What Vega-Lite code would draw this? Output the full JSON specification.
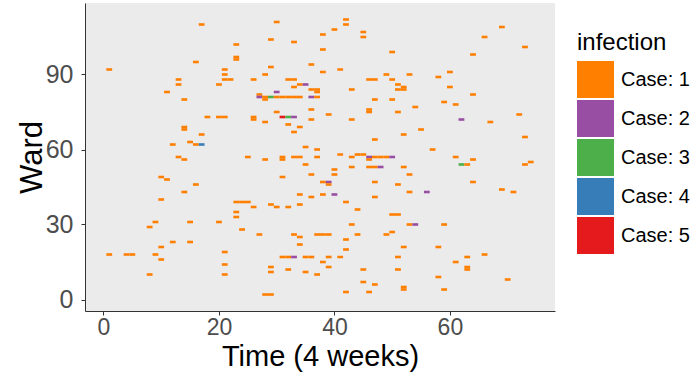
{
  "$schema": "https://vega.github.io/schema/vega-lite/v6.json",
  "width": 470,
  "height": 308,
  "autosize": {"type": "none"},
  "padding": {"left": 85, "top": 3, "right": 144, "bottom": 61},
  "background": "white",
  "config": {"view": {"fill": "#EBEBEB", "stroke": null}, "font": "Liberation Sans"},
  "data": {"values": [
    {"time":17,"ward":110,"infection":1},{"time":23,"ward":102,"infection":1},{"time":23,"ward":96,"infection":1},{"time":23,"ward":97,"infection":1},
    {"time":16,"ward":95,"infection":1},{"time":1,"ward":92,"infection":1},{"time":21,"ward":92,"infection":1},{"time":21,"ward":90,"infection":1},
    {"time":21,"ward":88,"infection":1},{"time":22,"ward":88,"infection":1},{"time":13,"ward":88,"infection":1},{"time":26,"ward":88,"infection":1},
    {"time":30,"ward":111,"infection":1},{"time":42,"ward":112,"infection":1},{"time":42,"ward":110,"infection":1},{"time":40,"ward":108,"infection":1},
    {"time":38,"ward":106,"infection":1},{"time":45,"ward":107,"infection":1},{"time":45,"ward":105,"infection":1},{"time":29,"ward":104,"infection":1},
    {"time":33,"ward":103,"infection":1},{"time":38,"ward":100,"infection":1},{"time":50,"ward":99,"infection":1},{"time":29,"ward":93,"infection":1},
    {"time":36,"ward":94,"infection":1},{"time":41,"ward":92,"infection":1},{"time":38,"ward":91,"infection":1},{"time":28,"ward":90,"infection":1},
    {"time":49,"ward":90,"infection":1},{"time":53,"ward":90,"infection":1},{"time":32,"ward":88,"infection":1},{"time":33,"ward":88,"infection":1},
    {"time":46,"ward":88,"infection":1},{"time":47,"ward":88,"infection":1},{"time":50,"ward":88,"infection":1},{"time":69,"ward":109,"infection":1},
    {"time":66,"ward":105,"infection":1},{"time":73,"ward":101,"infection":1},{"time":64,"ward":98,"infection":1},{"time":60,"ward":91,"infection":1},
    {"time":58,"ward":89,"infection":1},{"time":13,"ward":86,"infection":1},{"time":20,"ward":86,"infection":1},{"time":11,"ward":83,"infection":1},
    {"time":14,"ward":80,"infection":1},{"time":18,"ward":73,"infection":1},{"time":20,"ward":73,"infection":1},{"time":21,"ward":73,"infection":1},
    {"time":26,"ward":72,"infection":1},{"time":26,"ward":73,"infection":1},{"time":14,"ward":68,"infection":1},{"time":14,"ward":69,"infection":1},
    {"time":17,"ward":66,"infection":1},{"time":15,"ward":63,"infection":1},{"time":12,"ward":62,"infection":1},{"time":16,"ward":62,"infection":1},
    {"time":17,"ward":62,"infection":4},{"time":13,"ward":57,"infection":1},{"time":14,"ward":56,"infection":1},{"time":25,"ward":57,"infection":1},
    {"time":33,"ward":85,"infection":1},{"time":34,"ward":86,"infection":1},{"time":35,"ward":86,"infection":2},{"time":36,"ward":84,"infection":1},
    {"time":37,"ward":83,"infection":1},{"time":37,"ward":84,"infection":1},{"time":43,"ward":84,"infection":1},{"time":51,"ward":86,"infection":1},
    {"time":51,"ward":84,"infection":1},{"time":52,"ward":84,"infection":1},{"time":52,"ward":85,"infection":1},{"time":30,"ward":83,"infection":2},
    {"time":27,"ward":82,"infection":1},{"time":27,"ward":81,"infection":2},{"time":28,"ward":80,"infection":1},{"time":28,"ward":81,"infection":1},
    {"time":29,"ward":81,"infection":3},{"time":30,"ward":81,"infection":1},{"time":31,"ward":81,"infection":1},{"time":32,"ward":81,"infection":1},
    {"time":33,"ward":81,"infection":1},{"time":34,"ward":81,"infection":1},{"time":36,"ward":81,"infection":2},{"time":37,"ward":81,"infection":1},
    {"time":47,"ward":80,"infection":1},{"time":50,"ward":80,"infection":1},{"time":54,"ward":77,"infection":1},{"time":36,"ward":76,"infection":1},
    {"time":46,"ward":75,"infection":1},{"time":46,"ward":76,"infection":1},{"time":30,"ward":75,"infection":1},{"time":39,"ward":74,"infection":1},
    {"time":51,"ward":75,"infection":1},{"time":31,"ward":73,"infection":5},{"time":32,"ward":73,"infection":3},{"time":33,"ward":73,"infection":2},
    {"time":36,"ward":72,"infection":1},{"time":43,"ward":72,"infection":1},{"time":28,"ward":71,"infection":1},{"time":32,"ward":70,"infection":1},
    {"time":34,"ward":69,"infection":1},{"time":33,"ward":67,"infection":1},{"time":52,"ward":66,"infection":1},{"time":47,"ward":64,"infection":1},
    {"time":35,"ward":61,"infection":1},{"time":37,"ward":60,"infection":1},{"time":41,"ward":58,"infection":1},{"time":44,"ward":58,"infection":1},
    {"time":45,"ward":58,"infection":1},{"time":28,"ward":56,"infection":1},{"time":31,"ward":56,"infection":1},{"time":31,"ward":57,"infection":1},
    {"time":33,"ward":57,"infection":1},{"time":34,"ward":57,"infection":1},{"time":37,"ward":57,"infection":1},{"time":43,"ward":57,"infection":1},
    {"time":46,"ward":57,"infection":2},{"time":46,"ward":56,"infection":1},{"time":47,"ward":57,"infection":1},{"time":48,"ward":57,"infection":1},
    {"time":49,"ward":57,"infection":1},{"time":50,"ward":57,"infection":2},{"time":60,"ward":85,"infection":1},{"time":64,"ward":82,"infection":1},
    {"time":59,"ward":79,"infection":1},{"time":61,"ward":78,"infection":1},{"time":72,"ward":74,"infection":1},{"time":62,"ward":72,"infection":2},
    {"time":67,"ward":71,"infection":1},{"time":55,"ward":68,"infection":1},{"time":73,"ward":65,"infection":1},{"time":57,"ward":60,"infection":1},
    {"time":61,"ward":57,"infection":1},{"time":64,"ward":56,"infection":1},{"time":74,"ward":55,"infection":1},{"time":10,"ward":49,"infection":1},
    {"time":11,"ward":48,"infection":1},{"time":16,"ward":46,"infection":1},{"time":14,"ward":43,"infection":1},{"time":10,"ward":40,"infection":1},
    {"time":23,"ward":39,"infection":1},{"time":24,"ward":39,"infection":1},{"time":25,"ward":39,"infection":1},{"time":26,"ward":37,"infection":1},
    {"time":23,"ward":35,"infection":1},{"time":23,"ward":33,"infection":1},{"time":9,"ward":31,"infection":1},{"time":15,"ward":31,"infection":1},
    {"time":20,"ward":31,"infection":1},{"time":8,"ward":29,"infection":1},{"time":24,"ward":28,"infection":1},{"time":35,"ward":54,"infection":1},
    {"time":43,"ward":53,"infection":1},{"time":46,"ward":53,"infection":1},{"time":47,"ward":53,"infection":1},{"time":48,"ward":53,"infection":2},
    {"time":52,"ward":53,"infection":1},{"time":40,"ward":52,"infection":1},{"time":40,"ward":50,"infection":1},{"time":36,"ward":50,"infection":1},
    {"time":31,"ward":49,"infection":1},{"time":38,"ward":47,"infection":1},{"time":39,"ward":47,"infection":2},{"time":39,"ward":46,"infection":1},
    {"time":47,"ward":47,"infection":1},{"time":51,"ward":46,"infection":1},{"time":53,"ward":50,"infection":1},{"time":53,"ward":43,"infection":1},
    {"time":34,"ward":42,"infection":1},{"time":38,"ward":42,"infection":1},{"time":40,"ward":42,"infection":2},{"time":36,"ward":41,"infection":1},
    {"time":47,"ward":41,"infection":1},{"time":42,"ward":39,"infection":1},{"time":34,"ward":38,"infection":1},{"time":29,"ward":38,"infection":1},
    {"time":30,"ward":37,"infection":1},{"time":32,"ward":37,"infection":1},{"time":44,"ward":36,"infection":1},{"time":50,"ward":34,"infection":1},
    {"time":51,"ward":34,"infection":1},{"time":43,"ward":30,"infection":1},{"time":53,"ward":30,"infection":1},{"time":54,"ward":30,"infection":2},
    {"time":59,"ward":30,"infection":1},{"time":27,"ward":26,"infection":1},{"time":33,"ward":26,"infection":1},{"time":37,"ward":26,"infection":1},
    {"time":38,"ward":26,"infection":1},{"time":39,"ward":26,"infection":1},{"time":44,"ward":26,"infection":1},{"time":49,"ward":26,"infection":1},
    {"time":50,"ward":27,"infection":1},{"time":34,"ward":25,"infection":1},{"time":62,"ward":54,"infection":3},{"time":63,"ward":54,"infection":1},
    {"time":73,"ward":54,"infection":1},{"time":64,"ward":47,"infection":1},{"time":69,"ward":44,"infection":1},{"time":71,"ward":43,"infection":1},
    {"time":56,"ward":43,"infection":2},{"time":12,"ward":23,"infection":1},{"time":15,"ward":23,"infection":1},{"time":10,"ward":21,"infection":1},
    {"time":1,"ward":18,"infection":1},{"time":4,"ward":18,"infection":1},{"time":5,"ward":18,"infection":1},{"time":9,"ward":18,"infection":1},
    {"time":21,"ward":19,"infection":1},{"time":10,"ward":16,"infection":1},{"time":21,"ward":14,"infection":1},{"time":8,"ward":10,"infection":1},
    {"time":21,"ward":10,"infection":1},{"time":42,"ward":24,"infection":1},{"time":34,"ward":22,"infection":1},{"time":52,"ward":21,"infection":1},
    {"time":42,"ward":20,"infection":1},{"time":31,"ward":17,"infection":1},{"time":32,"ward":17,"infection":1},{"time":33,"ward":17,"infection":2},
    {"time":35,"ward":17,"infection":1},{"time":36,"ward":17,"infection":1},{"time":39,"ward":17,"infection":1},{"time":41,"ward":17,"infection":1},
    {"time":51,"ward":17,"infection":1},{"time":38,"ward":15,"infection":1},{"time":29,"ward":13,"infection":1},{"time":29,"ward":11,"infection":1},
    {"time":39,"ward":13,"infection":1},{"time":32,"ward":12,"infection":1},{"time":35,"ward":11,"infection":1},{"time":37,"ward":10,"infection":1},
    {"time":45,"ward":12,"infection":1},{"time":51,"ward":12,"infection":1},{"time":45,"ward":7,"infection":1},{"time":47,"ward":6,"infection":1},
    {"time":42,"ward":3,"infection":1},{"time":46,"ward":3,"infection":1},{"time":28,"ward":2,"infection":1},{"time":29,"ward":2,"infection":1},
    {"time":52,"ward":4,"infection":1},{"time":52,"ward":5,"infection":1},{"time":58,"ward":21,"infection":1},{"time":63,"ward":17,"infection":1},
    {"time":66,"ward":18,"infection":1},{"time":61,"ward":15,"infection":1},{"time":63,"ward":12,"infection":1},{"time":63,"ward":13,"infection":1},
    {"time":58,"ward":9,"infection":1},{"time":70,"ward":8,"infection":1},{"time":59,"ward":4,"infection":1}
  ]},
  "mark": {"type": "rect", "width": 5.8, "height": 2.6},
  "encoding": {
    "x": {
      "field": "time", "type": "quantitative",
      "scale": {"domain": [-3.2, 78.2], "nice": false, "zero": false},
      "axis": {"values": [0, 20, 40, 60], "title": "Time (4 weeks)", "grid": false,
        "domainColor": "#333333", "domainWidth": 1, "tickColor": "#333333", "tickSize": 4,
        "labelFontSize": 23, "labelColor": "#4D4D4D", "labelPadding": 1,
        "titleFontSize": 29, "titleFontWeight": "normal", "titleColor": "#000000",
        "titleY": 54, "titleBaseline": "alphabetic"}
    },
    "y": {
      "field": "ward", "type": "quantitative",
      "scale": {"domain": [-4.6, 118.6], "nice": false, "zero": false},
      "axis": {"values": [0, 30, 60, 90], "title": "Ward", "grid": false,
        "domainColor": "#333333", "domainWidth": 1, "tickColor": "#333333", "tickSize": 4,
        "labelFontSize": 25, "labelColor": "#4D4D4D", "labelPadding": 8,
        "titleFontSize": 31, "titleFontWeight": "normal", "titleColor": "#000000",
        "titleX": -44, "titleBaseline": "alphabetic"}
    },
    "color": {
      "field": "infection", "type": "nominal",
      "scale": {"domain": [1, 2, 3, 4, 5], "range": ["#FF7F00", "#984EA3", "#4DAF4A", "#377EB8", "#E41A1C"]},
      "legend": {"title": "infection", "orient": "none", "legendX": 492, "legendY": 28,
        "labelExpr": "'Case: ' + datum.label", "symbolType": "square", "symbolSize": 1369,
        "symbolStrokeWidth": 0, "symbolOpacity": 1, "rowPadding": 2, "labelOffset": 7,
        "labelFontSize": 20, "labelColor": "#000000", "titleFontSize": 24, "titleFontWeight": "normal",
        "titleColor": "#000000", "titlePadding": 6}
    }
  }
}
